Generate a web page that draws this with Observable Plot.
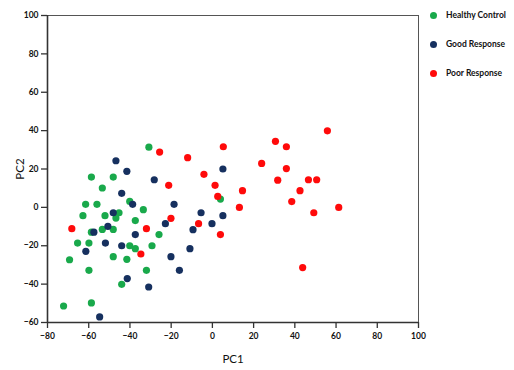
<!DOCTYPE html>
<html><head><meta charset="utf-8">
<script src="https://cdn.jsdelivr.net/npm/d3@7"></script>
<script src="https://cdn.jsdelivr.net/npm/@observablehq/plot@0.6"></script>
<style>
body{margin:0;background:#fff;}
#wrap{position:relative;width:514px;height:370px;font-family:Lato,"Liberation Sans",sans-serif;}
#legend{position:absolute;left:430px;top:9px;}
#legend .row{display:flex;align-items:center;height:29px;margin-top:0;font-weight:bold;font-size:8.5px;color:#111;}
#legend .row .sw{width:7px;height:7px;border-radius:50%;margin-right:9px;}
#legend .row{height:12px;margin-bottom:17px;}
svg text{font-family:Lato,"Liberation Sans",sans-serif;}
</style>
</head><body>
<div id="wrap"><div id="chart"></div><div id="legend"></div></div>
<script>
const groups = ["Healthy Control", "Good Response", "Poor Response"];
const colors = ["#19a94b", "#16305f", "#ff0a0a"];

const healthyPC1 = [-30.8,-58.7,-48.1,-53.4,-40.1,-61.5,-56.0,-33.5,-45.3,-62.8,-52.1,-46.8,-37.4,-58.7,-53.4,-48.1,-25.9,-65.4,-59.9,-40.1,-37.4,-29.3,-48.1,-41.5,-69.3,-59.9,-32.0,-44.0,-72.2,-58.7,3.9];
const healthyPC2 = [31.4,15.8,15.8,10.1,3.1,1.6,1.6,-1.2,-2.8,-4.3,-4.3,-5.6,-6.9,-12.9,-11.5,-11.5,-14.2,-18.6,-18.6,-20.0,-21.5,-20.0,-25.7,-27.1,-27.3,-32.8,-32.8,-40.1,-51.4,-49.8,4.3];

const goodPC1 = [-46.8,-41.5,-28.2,-44.0,-38.7,-48.1,-50.7,-57.5,-37.4,-51.9,-61.4,-44.0,-41.3,-30.9,-54.7,5.1,-18.6,-5.5,-22.8,-0.2,5.1,-9.4,-10.9,-20.1,-16.0];
const goodPC2 = [24.3,18.8,14.4,7.3,1.6,-2.8,-9.9,-12.9,-14.2,-18.6,-22.9,-20.0,-37.1,-41.5,-57.1,20.0,1.6,-2.8,-8.5,-8.5,-4.3,-11.6,-21.5,-25.7,-32.8];

const poorPC1 = [-25.6,-68.2,-32.0,-34.7,5.3,30.6,-12.0,23.9,-4.1,31.7,-21.2,1.3,14.6,2.6,13.1,-20.1,-6.7,3.9,55.8,35.9,35.9,46.6,50.6,42.5,38.5,61.3,49.2,43.8];
const poorPC2 = [28.8,-11.1,-11.1,-24.3,31.6,34.4,25.9,22.9,17.2,14.2,11.5,11.5,8.7,5.7,0,-5.7,-8.5,-14.2,39.9,31.6,20.2,14.4,14.4,8.7,3.0,0,-2.8,-31.4];

const xTicks = [-80,-60,-40,-20,0,20,40,60,80,100];
const yTicks = [-60,-40,-20,0,20,40,60,80,100];

const rows = [];
[[healthyPC1,healthyPC2],[goodPC1,goodPC2],[poorPC1,poorPC2]].forEach(([xs,ys],g)=>{
  xs.forEach((x,i)=>rows.push({pc1:x, pc2:ys[i], group:groups[g]}));
});

const chart = Plot.plot({
  width:514, height:370,
  marginLeft:47, marginRight:96, marginTop:15, marginBottom:48,
  style:{fontSize:"8.5px", fontWeight:"bold", color:"#111", background:"#fff"},
  x:{domain:[-80,100]},
  y:{domain:[-60,100]},
  color:{domain:groups, range:colors},
  marks:[
    Plot.frame({stroke:"#555", strokeWidth:1}),
    Plot.ruleX([-80],{stroke:"#333", strokeWidth:1.6}),
    Plot.ruleY([-60],{stroke:"#333", strokeWidth:1.6}),
    Plot.axisX({ticks:xTicks, tickSize:6, tickPadding:4, stroke:"#333", strokeWidth:1.3, label:"PC1", labelAnchor:"center", labelArrow:"none", labelOffset:40}),
    Plot.axisY({ticks:yTicks, tickSize:6, tickPadding:3, stroke:"#333", strokeWidth:1.3, label:"PC2", labelAnchor:"center", labelArrow:"none", labelOffset:32}),
    Plot.dot(rows,{x:"pc1", y:"pc2", fill:"group", r:3.6, stroke:null})
  ]
});
document.getElementById("chart").appendChild(chart);
chart.querySelectorAll('[aria-label$="axis label"] text, [aria-label$="axis label"]').forEach(t=>{
  t.style.fontSize="11.5px"; t.style.fontWeight="normal";
});

const legend = document.getElementById("legend");
groups.forEach((g,i)=>{
  const row = document.createElement("div"); row.className="row";
  const sw = document.createElement("span"); sw.className="sw"; sw.style.background=colors[i];
  const lab = document.createElement("span"); lab.textContent=g;
  row.appendChild(sw); row.appendChild(lab); legend.appendChild(row);
});
</script>
</body></html>
